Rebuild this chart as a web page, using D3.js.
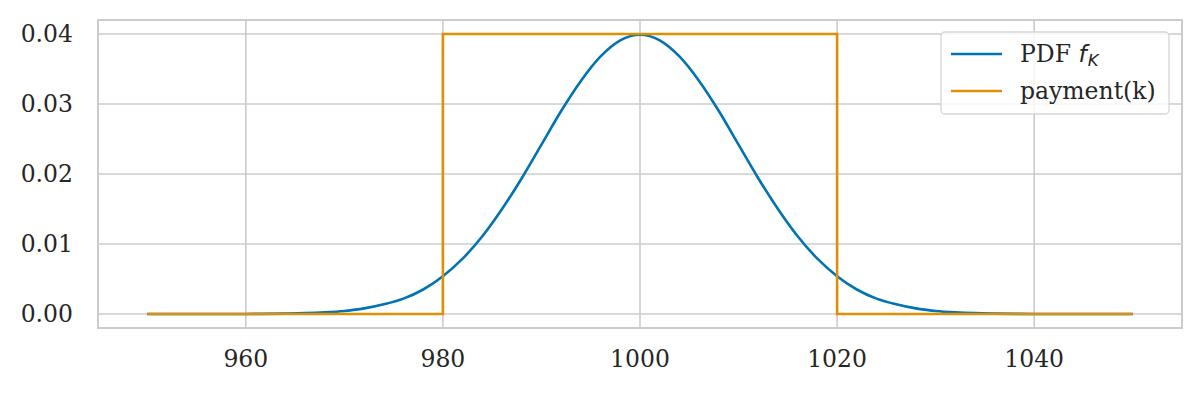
<!DOCTYPE html>
<html>
<head>
<meta charset="utf-8">
<script src="https://cdn.jsdelivr.net/npm/d3@7"></script>
<style>
  body { margin: 0; background: #fff; }
  svg { display: block; font-family: "DejaVu Serif", serif; }
</style>
</head>
<body>
<svg id="chart" width="1202" height="394"></svg>
<script>
// values
const pdfK = [950, 960, 964, 966, 968, 970, 972, 974, 976, 978, 980, 982, 984, 986, 988, 990,
              992, 994, 996, 998, 1000, 1002, 1004, 1006, 1008, 1010, 1012, 1014, 1016, 1018, 1020,
              1022, 1024, 1026, 1028, 1030, 1032, 1034, 1036, 1040, 1050];
const pdfVal = [0, 0.00001, 0.00006, 0.00012, 0.00024, 0.00044, 0.0008, 0.0014, 0.0022, 0.0035, 0.0054,
                0.0079, 0.0111, 0.0150, 0.0194, 0.0242, 0.0290, 0.0333, 0.0368, 0.0391, 0.0399,
                0.0391, 0.0368, 0.0333, 0.0290, 0.0242, 0.0194, 0.0150, 0.0111, 0.0079, 0.0054,
                0.0035, 0.0022, 0.0014, 0.0008, 0.00044, 0.00024, 0.00012, 0.00006, 0.00001, 0];
const payK =   [950, 980, 980, 1020, 1020, 1050];
const payVal = [0,   0,   0.04, 0.04, 0,    0];

const xTicks = [960, 980, 1000, 1020, 1040];
const yTicks = [0, 0.01, 0.02, 0.03, 0.04];

const BLUE = '#0173b2';
const ORANGE = '#de8f05';
const GRID = '#cccccc';
const TEXT = '#262626';
const FS = '23.5px';

const svg = d3.select('#chart');
const pLeft = 98, pRight = 1182, pTop = 20, pBottom = 328;

const x = d3.scaleLinear().domain([945, 1055]).range([pLeft, pRight]);
const y = d3.scaleLinear().domain([-0.002, 0.042]).range([pBottom, pTop]);

// grid
const g = svg.append('g');
g.selectAll('line.gx').data(xTicks).join('line').attr('class', 'gx')
    .attr('x1', d => x(d)).attr('x2', d => x(d))
    .attr('y1', pTop).attr('y2', pBottom)
    .attr('stroke', GRID).attr('stroke-width', 1.6);
g.selectAll('line.gy').data(yTicks).join('line').attr('class', 'gy')
    .attr('y1', d => y(d)).attr('y2', d => y(d))
    .attr('x1', pLeft).attr('x2', pRight)
    .attr('stroke', GRID).attr('stroke-width', 1.6);

// tick labels
svg.append('g').selectAll('text').data(yTicks).join('text')
    .attr('x', 73).attr('y', d => y(d)).attr('dy', '0.36em')
    .attr('text-anchor', 'end').attr('fill', TEXT)
    .style('font-size', FS)
    .text(d => d3.format('.2f')(d));
svg.append('g').selectAll('text').data(xTicks).join('text')
    .attr('x', d => x(d)).attr('y', 359).attr('dy', '0.36em')
    .attr('text-anchor', 'middle').attr('fill', TEXT)
    .style('font-size', FS)
    .text(d => d);

// lines
const pdfPts = pdfK.map((k, i) => [k, pdfVal[i]]);
const payPts = payK.map((k, i) => [k, payVal[i]]);

svg.append('path').datum(pdfPts)
    .attr('d', d3.line().x(d => x(d[0])).y(d => y(d[1])).curve(d3.curveMonotoneX))
    .attr('fill', 'none').attr('stroke', BLUE).attr('stroke-width', 2.6);
svg.append('path').datum(payPts)
    .attr('d', d3.line().x(d => x(d[0])).y(d => y(d[1])))
    .attr('fill', 'none').attr('stroke', ORANGE).attr('stroke-width', 2.6);

// frame
svg.append('rect')
    .attr('x', pLeft).attr('y', pTop)
    .attr('width', pRight - pLeft).attr('height', pBottom - pTop)
    .attr('fill', 'none').attr('stroke', GRID).attr('stroke-width', 2);

// legend
const lg = svg.append('g').attr('transform', 'translate(941,32)');
lg.append('rect')
    .attr('width', 228).attr('height', 82).attr('rx', 4)
    .attr('fill', 'rgba(255,255,255,0.8)').attr('stroke', '#d6d6d6').attr('stroke-width', 1.3);
const items = [{c: BLUE}, {c: ORANGE}];
lg.selectAll('line').data(items).join('line')
    .attr('x1', 10).attr('x2', 61)
    .attr('y1', (d, i) => 22 + i * 37).attr('y2', (d, i) => 22 + i * 37)
    .attr('stroke', d => d.c).attr('stroke-width', 2.6);
const t1 = lg.append('text').attr('x', 79).attr('y', 22).attr('dy', '0.36em')
    .attr('fill', TEXT).style('font-size', FS);
t1.append('tspan').text('PDF ');
t1.append('tspan').style('font-family', '"DejaVu Sans", sans-serif')
    .style('font-style', 'italic').text('f');
t1.append('tspan').style('font-family', '"DejaVu Sans", sans-serif')
    .style('font-style', 'italic').style('font-size', '16.5px')
    .attr('dy', '4').attr('dx', '1').text('K');
lg.append('text').attr('x', 79).attr('y', 59).attr('dy', '0.36em')
    .attr('fill', TEXT).style('font-size', FS).text('payment(k)');
</script>
</body>
</html>
